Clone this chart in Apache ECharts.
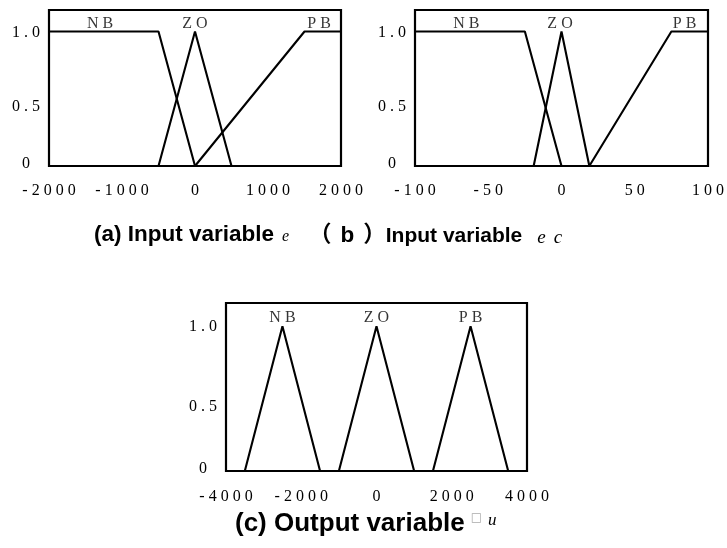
<!DOCTYPE html>
<html>
<head>
<meta charset="utf-8">
<script src="https://cdn.jsdelivr.net/npm/echarts@6/dist/echarts.min.js"></script>
<style>
html,body{margin:0;padding:0;background:#fff;}
#c{width:727px;height:548px;}
</style>
</head>
<body>
<div id="c"></div>
<script>
// ---- data ----
const setNames = ['NB', 'ZO', 'PB'];
const yTicks = [0, 0.5, 1.0];
const xTicksA = [-2000, -1000, 0, 1000, 2000];
const xTicksB = [-100, -50, 0, 50, 100];
const xTicksC = [-4000, -2000, 0, 2000, 4000];

// panel (a): input e
const aNB = [[-2000, 1], [-500, 1], [0, 0]];
const aZO = [[-500, 0], [0, 1], [500, 0]];
const aPB = [[0, 0], [1500, 1], [2000, 1]];
const aLabelX = [-1300, 0, 1700];

// panel (b): input ec
const bNB = [[-100, 1], [-25, 1], [0, 0]];
const bZO = [[-19, 0], [0, 1], [19, 0]];
const bPB = [[19, 0], [75, 1], [100, 1]];
const bLabelX = [-65, -1, 84];

// panel (c): output u
const cNB = [[-3500, 0], [-2500, 1], [-1500, 0]];
const cZO = [[-1000, 0], [0, 1], [1000, 0]];
const cPB = [[1500, 0], [2500, 1], [3500, 0]];
const cLabelX = [-2500, 0, 2500];
const labelY = 1.055;

// ---- helpers ----
const SERIF = '"Liberation Serif", "Times New Roman", serif';
const SANS = '"Liberation Sans", Arial, "Noto Sans CJK SC", sans-serif';
const spaced = s => String(s).split('').join(' ');
function fmtY(v) {
  if (!yTicks.some(t => Math.abs(t - v) < 1e-9)) return '';
  const s = spaced(v === 0 ? '0' : v.toFixed(1));
  if (Math.abs(v - 0.5) < 1e-9) return '{m|' + s + '}';
  if (v === 0) return '{z|' + s + '}';
  return '{n|' + s + '}';
}
function xFmt(ticks) {
  return v => ticks.some(t => Math.abs(t - v) < 1e-9) ? spaced(v) : '';
}
const yRich = {
  n: {fontFamily: SERIF, fontSize: 16, color: '#000', padding: [2, 0, 0, 0]},
  m: {fontFamily: SERIF, fontSize: 16, color: '#000', padding: [16, 0, 0, 0]},
  z: {fontFamily: SERIF, fontSize: 16, color: '#000', padding: [0, 0, 4, 0]}
};

const grids = [
  {left: 49, top: 10, width: 292, height: 156},
  {left: 415, top: 10, width: 293, height: 156},
  {left: 226, top: 303, width: 301, height: 168}
].map(g => Object.assign({show: true, borderColor: '#000', borderWidth: 2.2, containLabel: false}, g));

const xRanges = [[-2000, 2000, 1000, xTicksA], [-100, 100, 50, xTicksB], [-4000, 4000, 2000, xTicksC]];
const xAxes = xRanges.map((r, i) => ({
  type: 'value', gridIndex: i, min: r[0], max: r[1], interval: r[2],
  axisLine: {show: false}, axisTick: {show: false}, splitLine: {show: false},
  axisLabel: {show: true, formatter: xFmt(r[3]), fontFamily: SERIF, fontSize: 16, color: '#000',
    margin: i === 2 ? 18 : 17, showMinLabel: true, showMaxLabel: true, hideOverlap: false}
}));
const yAxes = [0, 1, 2].map(i => ({
  type: 'value', gridIndex: i, min: 0, max: 1.16, interval: 0.5,
  axisLine: {show: false}, axisTick: {show: false}, splitLine: {show: false},
  axisLabel: {show: true, formatter: fmtY, rich: yRich, align: 'center', margin: 23,
    showMinLabel: true, showMaxLabel: false}
}));

function lineSeries(data, i) {
  return {type: 'line', xAxisIndex: i, yAxisIndex: i, data: data, symbol: 'none',
    lineStyle: {color: '#000', width: 2.1}, silent: true, animation: false, z: 3};
}
function labelSeries(xs, i) {
  return {type: 'scatter', xAxisIndex: i, yAxisIndex: i, symbolSize: 0, silent: true, animation: false,
    data: xs.map((x, k) => ({name: setNames[k], value: [x, labelY]})),
    label: {show: true, position: 'inside', formatter: p => spaced(p.name),
      fontFamily: SERIF, fontSize: 16, color: '#000'}};
}

const series = [
  lineSeries(aNB, 0), lineSeries(aZO, 0), lineSeries(aPB, 0), labelSeries(aLabelX, 0),
  lineSeries(bNB, 1), lineSeries(bZO, 1), lineSeries(bPB, 1), labelSeries(bLabelX, 1),
  lineSeries(cNB, 2), lineSeries(cZO, 2), lineSeries(cPB, 2), labelSeries(cLabelX, 2)
];

const capRich = {
  b: {fontFamily: SANS, fontWeight: 'bold', fontSize: 22.5, color: '#000'},
  b2: {fontFamily: SANS, fontWeight: 'bold', fontSize: 21, color: '#000', padding: [1, 0, 0, 0]},
  pl: {fontFamily: SANS, fontWeight: 'bold', fontSize: 22.5, color: '#000', padding: [0, 9, 0, 0]},
  pr: {fontFamily: SANS, fontWeight: 'bold', fontSize: 22.5, color: '#000', padding: [0, 0, 0, 9]},
  B: {fontFamily: SANS, fontWeight: 'bold', fontSize: 26, color: '#000'},
  i: {fontFamily: SERIF, fontStyle: 'italic', fontWeight: 'normal', fontSize: 16, color: '#000', padding: [4, 0, 0, 8]},
  e2: {fontFamily: SERIF, fontStyle: 'italic', fontWeight: 'normal', fontSize: 19, color: '#000', padding: [4, 0, 0, 15]},
  c2: {fontFamily: SERIF, fontStyle: 'italic', fontWeight: 'normal', fontSize: 19, color: '#000', padding: [4, 0, 0, 8]},
  s: {fontFamily: '"DejaVu Sans", sans-serif', fontWeight: 'normal', fontSize: 12, color: '#aaa', padding: [0, 0, 12, 6]},
  u: {fontFamily: SERIF, fontStyle: 'italic', fontWeight: 'normal', fontSize: 17, color: '#000', padding: [0, 0, 6, 6]}
};
const titles = [
  {text: '{b|(a) Input variable}{i|e}', left: 89, top: 219},
  {text: '{pl|（}{b|b}{pr|）}{b2|Input variable}{e2|e}{c2|c}', left: 304, top: 219},
  {text: '{B|(c) Output variable}{s|□}{u|u}', left: 230, top: 506}
].map(t => Object.assign({textStyle: {rich: capRich}}, t));

const chart = echarts.init(document.getElementById('c'), null, {renderer: 'canvas'});
chart.setOption({
  animation: false,
  backgroundColor: '#fff',
  title: titles,
  grid: grids,
  xAxis: xAxes,
  yAxis: yAxes,
  series: series
});
</script>
</body>
</html>
